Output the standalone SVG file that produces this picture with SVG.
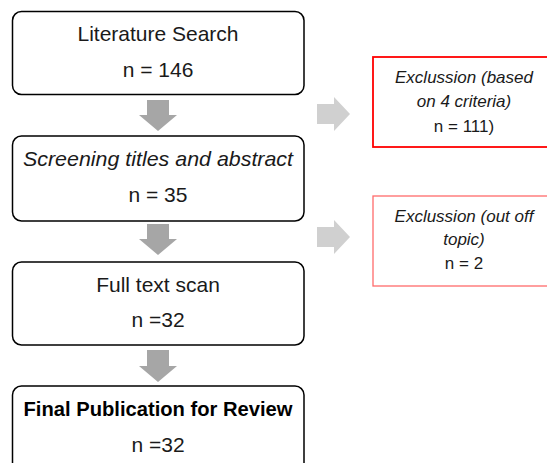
<svg xmlns="http://www.w3.org/2000/svg" width="547" height="463" viewBox="0 0 547 463">
<style>
.box{fill:#fff;stroke:#000;stroke-width:1.5}
.t{font-family:"Liberation Sans",Arial,sans-serif;font-size:21px;fill:#1a1a1a;text-anchor:middle}
.s{font-family:"Liberation Sans",Arial,sans-serif;font-size:17px;fill:#1a1a1a;text-anchor:middle}
.i{font-style:italic}
.b{font-weight:bold;fill:#000}
.da{fill:#a6a6a6}
.ra{fill:#d0d0d0}
</style>
<rect width="547" height="463" fill="#fff"/>
<g id="connectors">
<polygon class="da" points="147,100 169,100 169,115 177,115 158,131 139,115 147,115"/>
<polygon class="da" points="147,224 169,224 169,239 177,239 158,255 139,239 147,239"/>
<polygon class="da" points="147,350 169,350 169,366 177,366 158,382 139,366 147,366"/>
<polygon class="ra" points="317,104 334,104 334,97 350,114 334,131 334,124 317,124"/>
<polygon class="ra" points="317,227 334,227 334,220 350,237 334,254 334,247 317,247"/>
</g>
<g id="literature-search">
<rect class="box" x="12.5" y="11.5" width="291.5" height="83" rx="9"/>
<text class="t" x="158" y="41">Literature Search</text>
<text class="t" x="158" y="77">n = 146</text>
</g>
<g id="screening">
<rect class="box" x="12.5" y="136" width="291.5" height="85" rx="9"/>
<text class="t i" x="158" y="166" textLength="270" lengthAdjust="spacingAndGlyphs">Screening titles and abstract</text>
<text class="t" x="158" y="202">n = 35</text>
</g>
<g id="full-text-scan">
<rect class="box" x="12.5" y="262" width="291.5" height="83" rx="9"/>
<text class="t" x="158" y="292">Full text scan</text>
<text class="t" x="158" y="327">n =32</text>
</g>
<g id="final-publication">
<rect class="box" x="12.5" y="386" width="291.5" height="100" rx="9"/>
<text class="t b" x="158" y="416" textLength="269" lengthAdjust="spacingAndGlyphs">Final Publication for Review</text>
<text class="t" x="158" y="452">n =32</text>
</g>
<g id="exclusion-criteria">
<rect x="373" y="57" width="180" height="90" fill="#fff" stroke="#ff0000" stroke-width="1.8"/>
<text class="s i" x="464" y="83">Exclussion (based</text>
<text class="s i" x="464" y="107">on 4 criteria)</text>
<text class="s" x="464" y="132">n = 111)</text>
</g>
<g id="exclusion-topic">
<rect x="373" y="196" width="180" height="90" fill="#fff" stroke="#ff6b6b" stroke-width="1.3"/>
<text class="s i" x="464" y="222">Exclussion (out off</text>
<text class="s i" x="464" y="245">topic)</text>
<text class="s" x="464" y="269">n = 2</text>
</g>
</svg>
